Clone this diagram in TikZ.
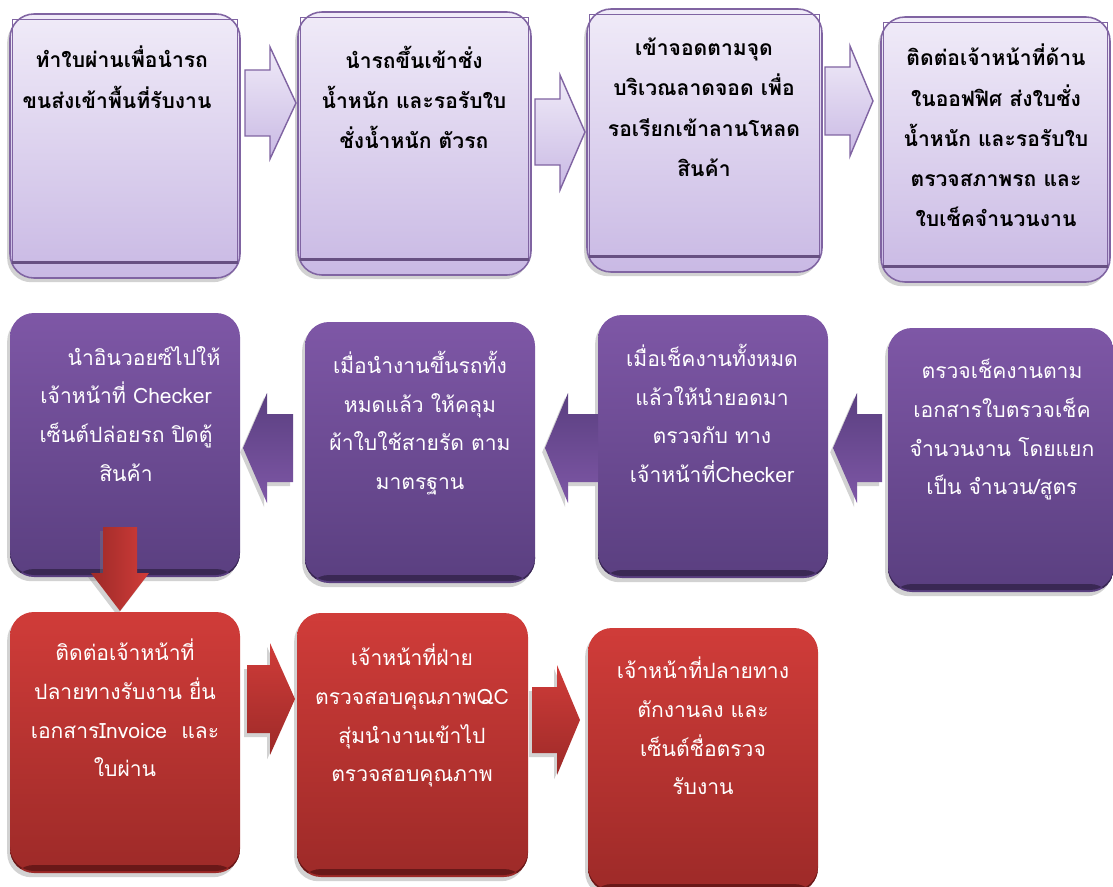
\documentclass[tikz,border=0pt]{standalone}
\usepackage{fontspec}
\newfontfamily\thaifont[Script=Thai]{Loma}
\usetikzlibrary{calc,shadows}
\definecolor{lavtop}{RGB}{240,235,248}
\definecolor{lavbot}{RGB}{201,185,228}
\definecolor{lavline}{RGB}{128,100,162}
\definecolor{purtop}{RGB}{126,87,166}
\definecolor{purbot}{RGB}{90,63,128}
\definecolor{purdark}{RGB}{58,40,84}
\definecolor{redtop}{RGB}{208,60,57}
\definecolor{redbot}{RGB}{157,42,40}
\definecolor{reddark}{RGB}{105,24,24}
\tikzset{
  sz/.style 2 args={minimum width=#1*0.025cm, minimum height=#2*0.025cm},
  lavbox/.style={draw=lavline, line width=1.1pt, rounded corners=0.6cm, top color=lavtop, bottom color=lavbot, inner sep=0pt,
    drop shadow={shadow xshift=-2pt, shadow yshift=-3pt, opacity=.35}},
  purbox/.style={rounded corners=0.6cm, top color=purtop, bottom color=purbot, inner sep=0pt,
    drop shadow={shadow xshift=-2pt, shadow yshift=-3pt, opacity=.35},
    path picture={\fill[purdark] ($(path picture bounding box.south west)+(0,0.2cm)$) rectangle ($(path picture bounding box.south east)+(0,0.05cm)$);}},
  redbox/.style={rounded corners=0.6cm, top color=redtop, bottom color=redbot, inner sep=0pt,
    drop shadow={shadow xshift=-2pt, shadow yshift=-3pt, opacity=.35},
    path picture={\fill[reddark] ($(path picture bounding box.south west)+(0,0.2cm)$) rectangle ($(path picture bounding box.south east)+(0,0.05cm)$);}},
  boxtext/.style={anchor=north, inner sep=0pt, align=center, font=\thaifont\fontsize{15}{27.5}\selectfont},
  boldtext/.style={boxtext, font=\thaifont\bfseries\fontsize{15}{28.5}\selectfont},
  lavarrow/.style={draw=lavline, line width=1pt, top color=lavtop, bottom color=lavbot},
  purarrow/.style={top color=purbot, bottom color=purtop, drop shadow={shadow xshift=-2pt, shadow yshift=-3pt, opacity=.35}},
  redarrow/.style={top color=redtop, bottom color=redbot, drop shadow={shadow xshift=-2pt, shadow yshift=-3pt, opacity=.35}},
}
\begin{document}
\begin{tikzpicture}[x=0.025cm, y=-0.025cm]
  \path[use as bounding box, fill=white] (0,0) rectangle (1113,887);
  %แถวที่ 1
  \node[lavbox, sz={230}{264}] (b1) at (125,146) {};
  \node[lavbox, sz={233}{263}] (b2) at (414.5,143.5) {};
  \node[lavbox, sz={235}{263}] (b3) at (704.5,140.5) {};
  \node[lavbox, sz={229}{265}] (b4) at (995.5,149.5) {};
  \foreach \b in {b1,b2,b3,b4}{
    \draw[lavline, line width=0.8pt] ($(\b.north west)+(3,6)$) rectangle ($(\b.south east)+(-3,-16)$);
    \draw[lavline!80!black, line width=2.2pt] ($(\b.south west)+(3,-16)$) -- ($(\b.south east)+(-3,-16)$);
  }
  \node[boldtext, align=left] (t1) at (117,46) {\hspace*{0.33cm}ทำใบผ่านเพื่อนำรถ\\ขนส่งเข้าพื้นที่รับงาน};
  \node[boldtext] (t2) at (414,46) {นำรถขึ้นเข้าชั่ง\\น้ำหนัก และรอรับใบ\\ชั่งน้ำหนัก ตัวรถ};
  \node[boldtext] (t3) at (704,38) {เข้าจอดตามจุด\\บริเวณลาดจอด เพื่อ\\รอเรียกเข้าลานโหลด\\สินค้า};
  \node[boldtext] (t4) at (996,44) {ติดต่อเจ้าหน้าที่ด้าน\\ในออฟฟิศ ส่งใบชั่ง\\น้ำหนัก และรอรับใบ\\ตรวจสภาพรถ และ\\ใบเช็คจำนวนงาน};
  %ลูกศรแถวที่ 1
  \path[lavarrow] (245,70) -- (270,70) -- (270,47) -- (296,103) -- (270,159) -- (270,136) -- (245,136) -- cycle;
  \path[lavarrow] (535,99) -- (560,99) -- (560,75) -- (585,132) -- (560,190) -- (560,165) -- (535,165) -- cycle;
  \path[lavarrow] (825,67) -- (850,67) -- (850,46) -- (873,101) -- (850,156) -- (850,135) -- (825,135) -- cycle;
  %แถวที่ 2
  \node[purbox, sz={230}{264}] (b5) at (125,445) {};
  \node[purbox, sz={230}{261}] (b6) at (420,452.5) {};
  \node[purbox, sz={230}{263}] (b7) at (713,446.5) {};
  \node[purbox, sz={226}{264}] (b8) at (1001,460) {};
  \node[boxtext, text=white] (t5) at (126,346) {\hspace*{0.9cm}นำอินวอยซ์ไปให้\\เจ้าหน้าที่ Checker\\เซ็นต์ปล่อยรถ ปิดตู้\\สินค้า};
  \node[boxtext, text=white] (t6) at (420,351) {เมื่อนำงานขึ้นรถทั้ง\\หมดแล้ว ให้คลุม\\ผ้าใบใช้สายรัด ตาม\\มาตรฐาน};
  \node[boxtext, text=white] (t7) at (712,344) {เมื่อเช็คงานทั้งหมด\\แล้วให้นำยอดมา\\ตรวจกับ ทาง\\เจ้าหน้าที่Checker};
  \node[boxtext, text=white] (t8) at (1002,359) {ตรวจเช็คงานตาม\\เอกสารใบตรวจเช็ค\\จำนวนงาน โดยแยก\\เป็น จำนวน/สูตร};
  %ลูกศรแถวที่ 2
  \path[purarrow] (882,414) -- (857,414) -- (857,393) -- (833,448) -- (857,503) -- (857,482) -- (882,482) -- cycle;
  \path[purarrow] (598,414) -- (568,414) -- (568,393) -- (545,448) -- (568,503) -- (568,482) -- (598,482) -- cycle;
  \path[purarrow] (293,414) -- (267,414) -- (267,393) -- (243,448) -- (267,503) -- (267,482) -- (293,482) -- cycle;
  %ลูกศรลง
  \path[left color=redbot, right color=redtop, drop shadow={shadow xshift=-2pt, shadow yshift=-3pt, opacity=.35}]
    (103,527) -- (137,527) -- (137,573) -- (149,573) -- (120,611) -- (91,573) -- (103,573) -- cycle;
  %แถวที่ 3
  \node[redbox, sz={230}{261}] (b9) at (125,742.5) {};
  \node[redbox, sz={231}{264}] (b10) at (412.5,745) {};
  \node[redbox, sz={230}{264}] (b11) at (703,760) {};
  \node[boxtext, text=white] (t9) at (125,639) {ติดต่อเจ้าหน้าที่\\ปลายทางรับงาน ยื่น\\เอกสารInvoice~ และ\\ใบผ่าน};
  \node[boxtext, text=white] (t10) at (412,644) {เจ้าหน้าที่ฝ่าย\\ตรวจสอบคุณภาพQC\\สุ่มนำงานเข้าไป\\ตรวจสอบคุณภาพ};
  \node[boxtext, text=white] (t11) at (703,657) {เจ้าหน้าที่ปลายทาง\\ตักงานลง และ\\เซ็นต์ชื่อตรวจ\\รับงาน};
  %ลูกศรแถวที่ 3
  \path[redarrow] (247,665) -- (270,665) -- (270,643) -- (295,699) -- (270,755) -- (270,733) -- (247,733) -- cycle;
  \path[redarrow] (532,687) -- (557,687) -- (557,665) -- (580,720) -- (557,775) -- (557,753) -- (532,753) -- cycle;
\end{tikzpicture}
\end{document}
